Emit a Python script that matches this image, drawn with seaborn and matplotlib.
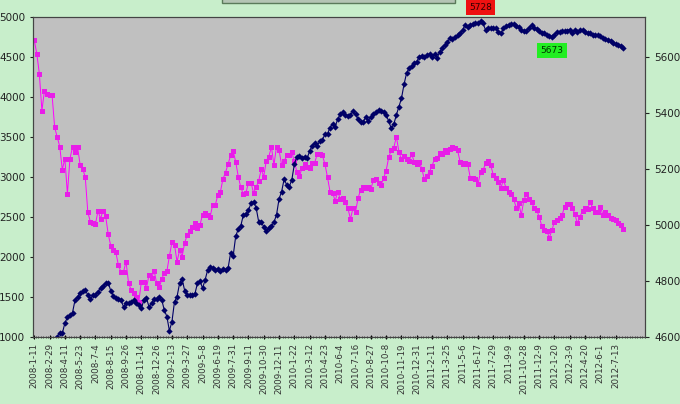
import numpy as np
import pandas as pd
import matplotlib
matplotlib.use("Agg")
import matplotlib.pyplot as plt
from matplotlib.patches import Rectangle
import seaborn as sns

# tick labels on the category axis (one every 6 weeks)
tick_labels = [
    "2008-1-11", "2008-2-29", "2008-4-11", "2008-5-23", "2008-7-4", "2008-8-15",
    "2008-9-26", "2008-11-14", "2008-12-26", "2009-2-13", "2009-3-27", "2009-5-8",
    "2009-6-19", "2009-7-31", "2009-9-11", "2009-10-30", "2009-12-11", "2010-1-22",
    "2010-3-12", "2010-4-23", "2010-6-4", "2010-7-16", "2010-8-27", "2010-10-8",
    "2010-11-19", "2010-12-31", "2011-2-11", "2011-3-25", "2011-5-6", "2011-6-17",
    "2011-7-29", "2011-9-9", "2011-10-28", "2011-12-9", "2012-1-20", "2012-3-9",
    "2012-4-20", "2012-6-1", "2012-7-13",
]

# magenta series, left axis
index_left = [
    4710, 4540, 4290, 3830, 4080, 4040, 4030, 4020, 3620, 3500,
    3380, 3090, 3230, 2790, 3230, 3370, 3310, 3370, 3150, 3100,
    3000, 2560, 2440, 2420, 2410, 2575, 2480, 2580, 2510, 2285,
    2140, 2090, 2060, 1895, 1815, 1815, 1940, 1670, 1590, 1545,
    1500, 1440, 1690, 1690, 1610, 1775, 1735, 1830, 1670, 1620,
    1720, 1805, 1820, 2010, 2185, 2150, 1940, 2085, 2005, 2180,
    2275, 2330, 2380, 2420, 2360, 2400, 2530, 2545, 2530, 2505,
    2655, 2650, 2775, 2815, 2975, 3055, 3160, 3270, 3325, 3190,
    3005, 2870, 2785, 2800, 2930, 2930, 2800, 2870, 2950, 3095,
    3005, 3205, 3255, 3375, 3150, 3380, 3335, 3150, 3195, 3270,
    3270, 3310, 3195, 3060, 3010, 3110, 3165, 3125, 3110, 3175,
    3180, 3290, 3290, 3270, 3160, 2995, 2815, 2805, 2700, 2815,
    2725, 2740, 2685, 2610, 2475, 2610, 2565, 2740, 2835, 2880,
    2865, 2880, 2850, 2960, 2975, 2920, 2900, 2985, 3080, 3245,
    3335, 3365, 3505, 3315, 3220, 3265, 3225, 3200, 3285, 3190,
    3160, 3190, 3100, 2970, 3015, 3065, 3140, 3225, 3235, 3295,
    3285, 3335, 3310, 3350, 3380, 3365, 3335, 3190, 3160, 3170,
    3160, 2985, 2990, 2975, 2910, 3060, 3085, 3170, 3200, 3150,
    3025, 2985, 2940, 2865, 2960, 2865, 2810, 2785, 2725, 2615,
    2670, 2525, 2710, 2785, 2725, 2690, 2615, 2585, 2505, 2390,
    2335, 2325, 2240, 2335, 2440, 2460, 2490, 2525, 2630, 2660,
    2660, 2615, 2535, 2420, 2505, 2575, 2610, 2600, 2685, 2610,
    2565, 2560, 2630, 2525, 2565, 2525, 2485, 2475, 2460, 2420,
    2400, 2350,
]

# navy series, right axis
index_right = [
    4480, 4500, 4470, 4520, 4510, 4540, 4560, 4530, 4580, 4601,
    4615, 4613, 4649, 4670, 4679, 4687, 4732, 4744, 4756, 4764,
    4768, 4750, 4735, 4750, 4750, 4762, 4774, 4782, 4792, 4794,
    4765, 4748, 4740, 4737, 4732, 4708, 4720, 4722, 4726, 4732,
    4720, 4714, 4702, 4732, 4738, 4708, 4720, 4736, 4736, 4742,
    4732, 4696, 4673, 4622, 4655, 4726, 4744, 4792, 4806, 4765,
    4750, 4750, 4750, 4754, 4792, 4801, 4774, 4804, 4839, 4851,
    4845, 4839, 4842, 4836, 4842, 4839, 4845, 4900, 4889, 4960,
    4985, 4997, 5036, 5040, 5053, 5077, 5083, 5062, 5012, 5010,
    4994, 4978, 4990, 4997, 5010, 5036, 5093, 5119, 5164, 5143,
    5137, 5161, 5217, 5244, 5247, 5238, 5244, 5238, 5264, 5283,
    5292, 5283, 5300, 5304, 5324, 5326, 5348, 5362, 5351, 5378,
    5395, 5402, 5393, 5390, 5393, 5407, 5395, 5378, 5367, 5367,
    5387, 5372, 5387, 5395, 5405, 5411, 5407, 5405, 5393, 5371,
    5345, 5360, 5393, 5422, 5452, 5502, 5542, 5560, 5569, 5577,
    5583, 5601, 5605, 5601, 5607, 5610, 5601, 5610, 5596, 5619,
    5631, 5643, 5654, 5667, 5663, 5670, 5678, 5684, 5698, 5714,
    5708, 5714, 5718, 5720, 5722, 5728, 5720, 5696, 5702, 5705,
    5705, 5705, 5690, 5684, 5702, 5711, 5714, 5718, 5718, 5711,
    5708, 5696, 5694, 5694, 5702, 5714, 5705, 5700, 5694, 5684,
    5686, 5678, 5676, 5673, 5680, 5690, 5690, 5694, 5694, 5694,
    5698, 5686, 5696, 5690, 5698, 5695, 5690, 5686, 5684, 5678,
    5679, 5677, 5675, 5669, 5663, 5660, 5658, 5651, 5646, 5642,
    5639, 5633,
]

n_slots = 240
df = pd.DataFrame({"week": np.arange(len(index_left)),
                   "left": index_left, "right": index_right})

bg = "#c8eecb"
fig = plt.figure(figsize=(6.8, 4.04), dpi=100, facecolor=bg)
ax = fig.add_axes([0.0485, 0.166, 0.9, 0.792])
ax.set_facecolor("#c0c0c0")

sns.lineplot(data=df, x="week", y="left", ax=ax, color="#ff00ff", linewidth=0.7,
             marker="s", markersize=3.6, markeredgewidth=0, markerfacecolor="#e81ee8")
ax2 = ax.twinx()
sns.lineplot(data=df, x="week", y="right", ax=ax2, color="#000066", linewidth=0.8,
             marker="D", markersize=3.2, markeredgewidth=0, markerfacecolor="#000066")

ax.set_xlim(-0.5, n_slots - 0.5)
ax.set_ylim(1000, 5000)
ax2.set_ylim(4600, 5743)
ax.set_yticks(range(1000, 5001, 500))
ax2.set_yticks(range(4600, 5601, 200))
ax.set_xticks(np.arange(0, 6 * len(tick_labels), 6))
ax.set_xticklabels(tick_labels, rotation=90, fontsize=6.3, color="#333333")
ax.set_xticks(np.arange(-0.5, n_slots, 1), minor=True)
ax.tick_params(axis="x", which="major", length=3, direction="inout", pad=3)
ax.tick_params(axis="x", which="minor", length=2, direction="inout", color="#333333")
ax.tick_params(axis="y", labelsize=7.5, length=2, colors="#222222")
ax2.tick_params(axis="y", labelsize=7.5, length=3, colors="#222222")
for a in (ax, ax2):
    a.set_xlabel("")
    a.set_ylabel("")
    for s in a.spines.values():
        s.set_color("#444444")
        s.set_linewidth(0.8)

# value labels on the navy series
i_max = int(np.argmax(index_right))
ax2.annotate(str(index_right[i_max]), xy=(i_max, index_right[i_max]), xytext=(0, 10),
             textcoords="offset points", ha="center", va="center", fontsize=6.5,
             color="#330000", annotation_clip=False,
             bbox=dict(boxstyle="square,pad=0.35", fc="#ee1111", ec="none"))
i_low = 203
ax2.annotate(str(index_right[i_low]), xy=(i_low, index_right[i_low]), xytext=(0, -10),
             textcoords="offset points", ha="center", va="center", fontsize=6.5,
             color="#003300",
             bbox=dict(boxstyle="square,pad=0.35", fc="#22ee22", ec="none"))

# cut-off title box at the top edge
fig.patches.append(Rectangle((222 / 680, 1 - 2.5 / 404), 233 / 680, 0.05,
                             transform=fig.transFigure, fc="#b4c4b4", ec="#5a7a5a",
                             lw=1, zorder=0))

fig.savefig("out.png", dpi=100, facecolor=bg)
